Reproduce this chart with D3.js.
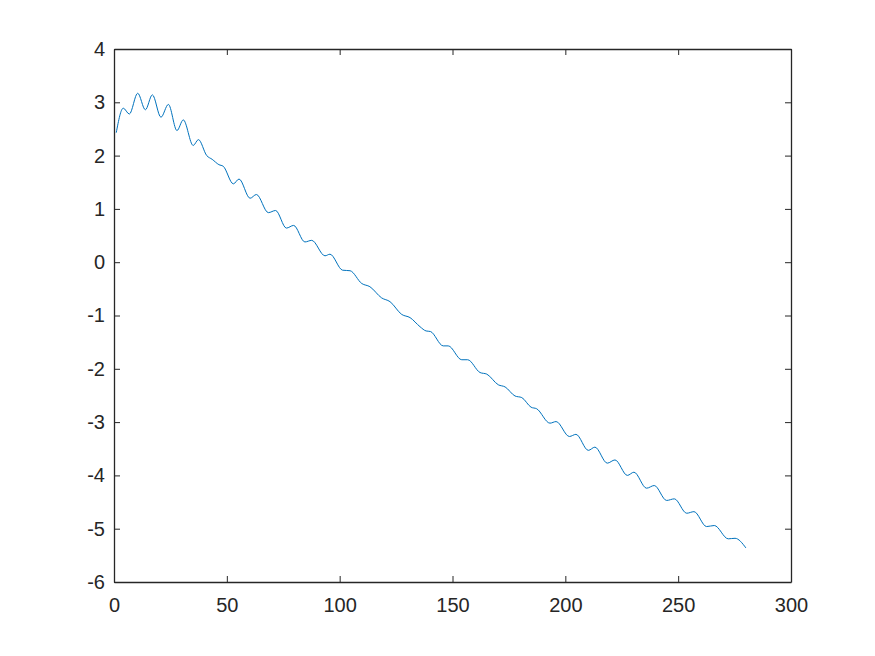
<!DOCTYPE html>
<html>
<head>
<meta charset="utf-8">
<script src="https://cdn.jsdelivr.net/npm/d3@7"></script>
<style>
  html, body { margin: 0; padding: 0; background: #fff; }
  svg { display: block; }
  text { font-family: "Liberation Sans", Arial, Helvetica, sans-serif; }
</style>
</head>
<body>
<svg id="chart" width="875" height="656"></svg>
<script>
// Data (local extrema / shoulders of the curve)
const xValues = [1, 4.1, 6.8, 10.5, 13.9, 17.0, 20.8, 24.1, 27.9, 30.7, 35.1, 37.4, 41.1, 43.5, 46.5, 48.4,
  52.9, 55.4, 60.3, 63.1, 68.4, 71.6, 76.4, 79.6, 84.6, 87.6, 93.5, 95.7, 101.3, 104.6, 109.8, 113.4,
  118.6, 122.3, 127.5, 131.2, 135.6, 138.3, 140.2, 145.9, 148.1, 154.1, 156.7, 162.2, 165.2, 170.3,
  173.3, 177.7, 180.7, 184.8, 187.3, 193.2, 195.9, 201.8, 204.7, 210.2, 213.1, 218.6, 222.0, 227.5,
  230.4, 236.0, 239.4, 244.9, 248.3, 253.8, 257.0, 262.6, 266.0, 272.2, 275.2, 280];
const yValues = [2.43, 2.89, 2.78, 3.17, 2.86, 3.14, 2.72, 2.96, 2.47, 2.67, 2.19, 2.30, 2.00, 1.93, 1.83, 1.80,
  1.47, 1.56, 1.20, 1.27, 0.93, 0.97, 0.64, 0.69, 0.38, 0.41, 0.12, 0.15, -0.15, -0.16, -0.40, -0.46,
  -0.67, -0.74, -0.98, -1.04, -1.21, -1.29, -1.30, -1.57, -1.57, -1.83, -1.83, -2.07, -2.10, -2.30,
  -2.34, -2.51, -2.54, -2.72, -2.75, -3.02, -2.99, -3.27, -3.23, -3.53, -3.47, -3.77, -3.71, -4.00,
  -3.94, -4.24, -4.19, -4.47, -4.44, -4.71, -4.68, -4.96, -4.94, -5.19, -5.18, -5.36];
const xTicks = [0, 50, 100, 150, 200, 250, 300];
const yTicks = [-6, -5, -4, -3, -2, -1, 0, 1, 2, 3, 4];

const data = xValues.map((v, i) => ({ x: v, y: yValues[i] }));

const mLeft = 114, mRight = 791, mTop = 49, mBottom = 582;
const axisColor = "#262626";
const fontSize = 20;
const fmt = d => String(d);

const svg = d3.select("#chart");
const xScale = d3.scaleLinear().domain([0, 300]).range([mLeft, mRight]);
const yScale = d3.scaleLinear().domain([-6, 4]).range([mBottom, mTop]);

const tickLen = 6;

const gB = svg.append("g").attr("transform", `translate(0,${mBottom})`)
  .call(d3.axisBottom(xScale).tickValues(xTicks).tickFormat(fmt).tickSizeInner(-tickLen).tickSizeOuter(0).tickPadding(16));
const gT = svg.append("g").attr("transform", `translate(0,${mTop})`)
  .call(d3.axisTop(xScale).tickValues(xTicks).tickSizeInner(-tickLen).tickSizeOuter(0).tickFormat(""));
const gL = svg.append("g").attr("transform", `translate(${mLeft},0)`)
  .call(d3.axisLeft(yScale).tickValues(yTicks).tickFormat(fmt).tickSizeInner(-tickLen).tickSizeOuter(0).tickPadding(9));
const gR = svg.append("g").attr("transform", `translate(${mRight},0)`)
  .call(d3.axisRight(yScale).tickValues(yTicks).tickSizeInner(-tickLen).tickSizeOuter(0).tickFormat(""));

[gB, gT, gL, gR].forEach(g => {
  g.select(".domain").attr("stroke", axisColor).attr("stroke-width", 1.3);
  g.selectAll(".tick line").attr("stroke", axisColor).attr("stroke-width", 1);
  g.selectAll(".tick text").attr("fill", axisColor).style("font-size", fontSize + "px")
    .style("font-family", "'Liberation Sans', Arial, Helvetica, sans-serif");
});

const line = d3.line()
  .x(d => xScale(d.x))
  .y(d => yScale(d.y))
  .curve(d3.curveMonotoneX);

svg.append("path")
  .datum(data)
  .attr("fill", "none")
  .attr("stroke", "#0072BD")
  .attr("stroke-width", 1)
  .attr("d", line);
</script>
</body>
</html>
